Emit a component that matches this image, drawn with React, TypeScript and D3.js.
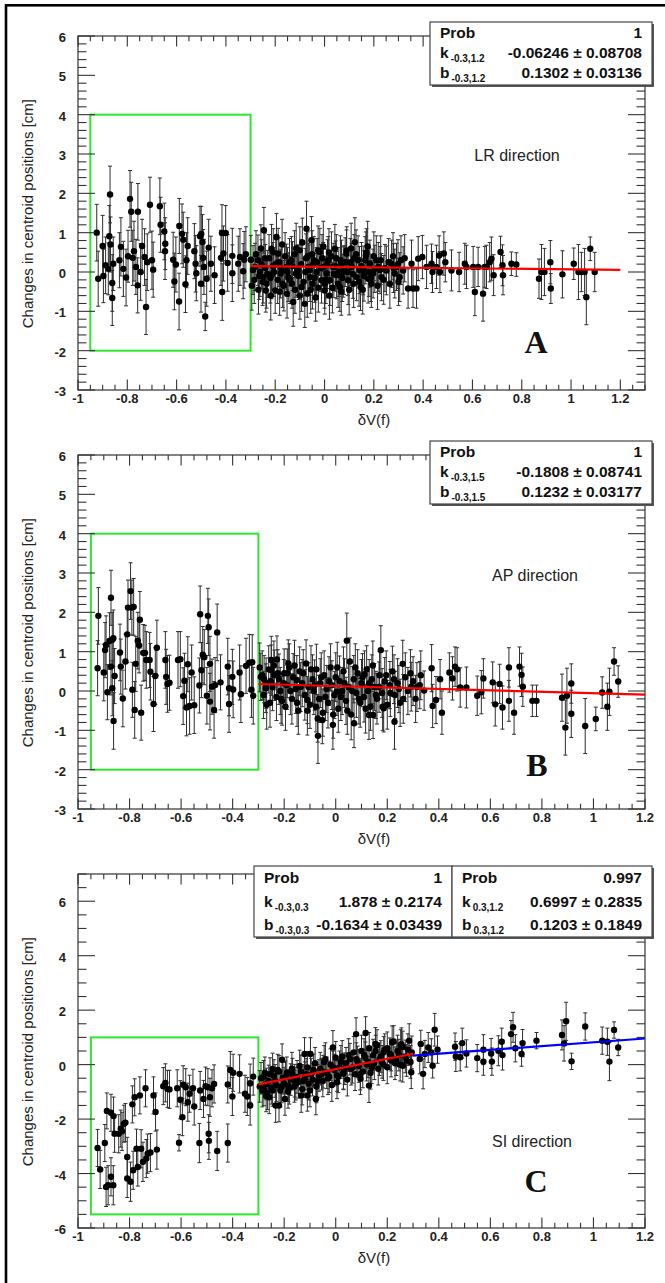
import React from 'react';
import * as d3 from 'd3';

type P = [number, number, number];

// ---------- data (x = dV(f), y = change in centroid position, e = error) ----------
const lrPoints: P[] = [
  [-0.924,1.0,0.72],[-0.918,-0.17,0.7],[-0.9,0.66,0.78],[-0.897,-0.1,0.68],[-0.888,0.17,0.72],[-0.877,0.08,0.66],
  [-0.87,1.97,0.72],[-0.873,0.91,0.78],[-0.868,0.7,0.7],[-0.861,-0.28,0.72],[-0.861,-0.66,0.7],[-0.857,0.21,0.68],
  [-0.832,0.3,0.7],[-0.826,0.64,0.74],[-0.816,0.08,0.7],[-0.805,-0.14,0.72],[-0.797,0.4,0.66],[-0.789,1.86,0.72],
  [-0.784,1.53,0.75],[-0.778,0.36,0.7],[-0.773,0.53,0.76],[-0.765,0.13,0.7],[-0.757,1.53,0.72],[-0.758,-0.34,0.7],
  [-0.746,0.0,0.72],[-0.74,0.66,0.68],[-0.73,0.38,0.72],[-0.724,-0.89,0.7],[-0.719,0.25,0.72],[-0.708,1.71,0.7],
  [-0.7,0.3,0.74],[-0.695,0.06,0.7],[-0.668,1.67,0.72],[-0.665,1.2,0.7],[-0.65,1.03,0.72],[-0.646,0.72,0.66],
  [-0.647,0.53,0.72],[-0.614,0.31,0.7],[-0.609,-0.24,0.72],[-0.603,0.19,0.7],[-0.59,-0.75,0.72],[-0.589,1.17,0.7],
  [-0.578,0.97,0.76],[-0.573,0.82,0.7],[-0.564,-0.31,0.72],[-0.56,0.3,0.7],[-0.555,0.66,0.72],[-0.528,0.53,0.7],
  [-0.523,0.21,0.72],[-0.52,-0.03,0.7],[-0.505,0.91,0.76],[-0.5,0.97,0.7],[-0.501,-0.3,0.72],[-0.495,0.76,0.7],
  [-0.492,0.36,0.72],[-0.489,0.13,0.7],[-0.484,-1.13,0.36],[-0.478,-0.17,0.7],[-0.47,0.62,0.72],[-0.461,0.21,0.7],
  [-0.446,-0.08,0.72],[-0.42,0.36,0.7],[-0.415,-0.51,0.72],[-0.41,0.47,0.7],[-0.416,0.99,0.72],[-0.401,0.99,0.7],
  [-0.393,0.23,0.72],[-0.374,0.41,0.7],[-0.374,-0.03,0.72],[-0.35,0.21,0.7],[-0.343,0.38,0.72],[-0.33,0.02,0.7],
  [-0.326,0.31,0.72],[-0.319,0.45,0.7],[-0.299,0.31,0.62],
  [-0.282,0.13,0.6],[-0.262,0.0,0.62],[-0.246,1.06,0.58],[-0.249,-0.13,0.66],[-0.251,-0.25,0.6],[-0.238,-0.47,0.55],
  [-0.215,0.59,0.62],[-0.215,-0.08,0.6],[-0.2,-0.47,0.58],[-0.195,0.89,0.6],[-0.188,0.47,0.64],[-0.178,-0.04,0.62],
  [-0.17,-0.3,0.6],[-0.154,0.13,0.58],[-0.147,-0.13,0.62],[-0.134,0.3,0.6],[-0.127,-0.76,0.62],[-0.116,-0.04,0.6],
  [-0.107,0.04,0.64],[-0.1,0.55,0.6],[-0.093,-0.38,0.62],[-0.08,-0.81,0.6],[-0.073,1.1,0.7],[-0.066,0.13,0.6],
  [-0.059,-0.13,0.62],[-0.053,0.81,0.6],[-0.049,-0.3,0.64],[-0.043,0.3,0.6],[-0.032,0.0,0.62],[-0.019,0.51,0.6],
  [-0.012,-0.21,0.58],[-0.005,0.13,0.62],[0.001,-0.47,0.6],[0.008,-0.04,0.62],[0.015,0.3,0.6],[0.022,-0.21,0.64],
  [0.035,0.13,0.6],[0.042,0.59,0.62],[0.049,-0.08,0.6],[0.062,-0.38,0.62],[0.069,0.21,0.6],[0.076,0.0,0.64],
  [0.089,0.47,0.6],[0.096,-0.21,0.62],[0.11,0.13,0.6],[0.123,0.76,0.62],[0.13,-0.13,0.6],[0.136,0.3,0.62],
  [0.146,-0.38,0.6],[0.157,0.04,0.62],[0.168,0.42,0.6],[0.177,-0.17,0.62],[0.184,0.21,0.6],[0.197,-0.04,0.62],
  [0.204,0.08,0.6],[0.218,0.13,0.62],[0.231,-0.13,0.6],[0.251,0.04,0.62],[0.272,0.21,0.6],[0.285,-0.04,0.62],
  [0.292,0.13,0.6],[0.305,-0.13,0.62],[0.319,0.04,0.6],[0.339,-0.42,0.5],[0.353,0.21,0.6],[0.359,-0.42,0.48],
  [0.373,-0.42,0.5],[0.38,0.34,0.56],[0.397,0.38,0.55],[0.414,0.13,0.55],[0.434,0.21,0.5],[0.438,0.0,0.52],
  [0.454,0.13,0.55],[0.465,0.42,0.5],[0.468,0.0,0.52],[0.484,0.47,0.55],[0.49,0.25,0.5],[0.515,0.04,0.52],
  [0.546,0.0,0.5],[0.569,0.21,0.52],[0.576,0.13,0.55],[0.603,0.13,0.52],[0.61,-0.51,0.6],[0.623,0.13,0.5],
  [0.643,-0.55,0.7],[0.65,0.13,0.52],[0.657,0.13,0.55],[0.67,0.25,0.5],[0.677,0.34,0.55],[0.686,-0.08,0.52],
  [0.714,0.51,0.4],[0.722,0.17,0.52],[0.724,-0.08,0.5],[0.758,0.21,0.3],[0.778,0.19,0.3],[0.87,-0.17,0.5],
  [0.88,0.0,0.7],[0.892,0.0,0.6],[0.916,0.25,0.55],[0.918,-0.42,0.38],[0.965,-0.06,0.6],[1.011,0.21,0.4],
  [1.03,0.0,0.7],[1.042,0.0,0.5],[1.055,0.0,0.6],[1.062,-0.64,0.7],[1.078,0.59,0.3],[1.096,0.0,0.5],
  [-0.29,0.05,0.62],[-0.285,-0.2,0.6],[-0.27,0.3,0.64],[-0.265,-0.1,0.6],[-0.255,0.2,0.62],[-0.24,0.1,0.6],
  [-0.235,-0.3,0.62],[-0.225,0.35,0.6],[-0.22,-0.15,0.64],[-0.21,0.15,0.6],[-0.205,0.0,0.62],[-0.19,-0.2,0.6],
  [-0.185,0.25,0.62],[-0.175,0.1,0.6],[-0.165,-0.35,0.64],[-0.16,0.4,0.6],[-0.15,0.0,0.62],[-0.14,-0.2,0.6],
  [-0.13,0.15,0.62],[-0.12,-0.45,0.6],[-0.115,0.6,0.64],[-0.105,-0.1,0.6],[-0.095,0.2,0.62],[-0.085,-0.25,0.6],
  [-0.075,0.35,0.62],[-0.07,-0.55,0.6],[-0.06,0.05,0.64],[-0.05,0.45,0.6],[-0.04,-0.15,0.62],[-0.03,0.25,0.6],
  [-0.025,-0.4,0.62],[-0.015,0.1,0.6],[-0.005,0.65,0.64],[0.005,-0.2,0.6],[0.012,0.2,0.62],[0.02,-0.6,0.6],
  [0.028,0.4,0.62],[0.038,-0.05,0.6],[0.045,0.15,0.64],[0.055,-0.3,0.6],[0.065,0.3,0.62],[0.072,-0.15,0.6],
  [0.08,0.05,0.62],[0.09,0.55,0.6],[0.1,-0.45,0.64],[0.105,0.25,0.6],[0.115,-0.05,0.62],[0.12,0.35,0.6],
  [0.14,-0.25,0.62],[0.15,0.15,0.6],[0.16,-0.1,0.64],[0.17,0.5,0.6],[0.18,0.0,0.62],[0.19,-0.3,0.6],
  [0.21,0.3,0.62],[0.225,0.05,0.6],[0.24,-0.2,0.62],[0.26,0.25,0.6],[0.28,0.1,0.62],[0.3,-0.25,0.6],[0.31,0.3,0.62],
  [-0.295,-0.35,0.62],[-0.278,0.45,0.6],[-0.268,-0.45,0.62],[-0.258,0.6,0.6],[-0.242,0.35,0.64],[-0.232,-0.05,0.6],
  [-0.218,-0.6,0.62],[-0.208,0.5,0.6],[-0.198,0.2,0.62],[-0.182,-0.5,0.6],[-0.172,0.7,0.64],[-0.162,0.05,0.6],
  [-0.152,-0.55,0.62],[-0.142,0.25,0.6],[-0.132,-0.3,0.62],[-0.122,0.45,0.6],[-0.11,0.05,0.64],[-0.1,-0.6,0.6],
  [-0.09,0.75,0.62],[-0.078,0.0,0.6],[-0.068,0.4,0.62],[-0.056,-0.45,0.6],[-0.046,0.2,0.64],[-0.036,-0.65,0.6],
  [-0.026,0.55,0.62],[-0.01,0.35,0.6],[0.0,-0.3,0.62],[0.018,0.5,0.6],[0.032,-0.4,0.64],[0.048,0.35,0.6],
  [0.058,0.0,0.62],[0.068,-0.5,0.6],[0.084,0.25,0.62],[0.094,0.0,0.6],[0.108,0.6,0.64],[0.118,-0.3,0.6],
  [0.128,0.45,0.62],[0.142,0.05,0.6],[0.155,-0.45,0.62],[0.165,0.3,0.6],[0.175,0.65,0.64],[0.188,-0.15,0.6],
  [0.2,0.4,0.62],[0.215,-0.35,0.6],[0.228,0.3,0.62],[0.245,0.1,0.6],[0.265,-0.3,0.62],[0.278,0.4,0.6],
  [0.298,0.2,0.62],[0.325,0.35,0.6],
];

const apPoints: P[] = [
  [-0.921,1.91,0.72],[-0.924,0.58,0.7],[-0.9,0.47,0.72],[-0.895,1.04,0.7],[-0.891,1.17,0.74],[-0.886,-0.03,0.7],
  [-0.878,1.27,0.72],[-0.872,2.37,0.7],[-0.872,0.62,0.72],[-0.867,1.3,0.7],[-0.863,1.34,0.72],[-0.867,0.07,0.7],
  [-0.862,-0.76,0.72],[-0.858,0.38,0.7],[-0.837,0.98,0.72],[-0.834,0.62,0.7],[-0.826,-0.19,0.72],[-0.816,0.75,0.7],
  [-0.809,1.44,0.72],[-0.806,2.12,0.7],[-0.796,2.54,0.72],[-0.791,2.12,0.7],[-0.784,2.14,0.72],[-0.789,0.03,0.7],
  [-0.78,-0.48,0.72],[-0.776,0.69,0.7],[-0.768,1.28,0.72],[-0.763,1.16,0.7],[-0.76,1.81,0.72],[-0.755,-0.55,0.7],
  [-0.747,0.97,0.72],[-0.74,0.97,0.7],[-0.735,0.79,0.72],[-0.722,0.79,0.7],[-0.719,0.49,0.72],[-0.707,-0.33,0.7],
  [-0.7,0.38,0.72],[-0.694,1.1,0.7],[-0.661,0.79,0.72],[-0.658,0.36,0.7],[-0.653,0.18,0.72],[-0.645,0.21,0.7],
  [-0.612,0.79,0.72],[-0.603,0.81,0.7],[-0.592,-0.13,0.72],[-0.587,0.26,0.7],[-0.579,-0.42,0.72],[-0.574,0.68,0.7],
  [-0.567,-0.38,0.72],[-0.559,0.47,0.7],[-0.549,-0.36,0.72],[-0.529,0.14,0.7],[-0.526,1.95,0.72],[-0.521,0.53,0.7],
  [-0.516,0.92,0.72],[-0.51,0.86,0.7],[-0.5,-0.12,0.72],[-0.496,1.91,0.7],[-0.493,1.62,0.72],[-0.488,0.69,0.7],
  [-0.488,-0.27,0.72],[-0.48,0.11,0.7],[-0.472,-0.48,0.72],[-0.468,0.15,0.7],[-0.46,1.49,0.72],[-0.447,0.22,0.7],
  [-0.419,0.62,0.72],[-0.414,0.07,0.7],[-0.414,-0.33,0.72],[-0.401,0.36,0.7],[-0.398,0.04,0.72],[-0.373,0.47,0.7],
  [-0.368,-0.08,0.72],[-0.348,0.64,0.7],[-0.335,0.72,0.72],[-0.324,0.73,0.7],[-0.32,-0.12,0.72],[-0.327,0.03,0.7],
  [-0.291,0.36,0.6],[-0.271,0.07,0.62],[-0.25,0.79,0.6],[-0.25,0.53,0.64],[-0.225,0.45,0.6],[-0.208,-0.25,0.62],
  [-0.184,0.7,0.6],[-0.151,0.28,0.62],[-0.11,-0.23,0.6],[-0.077,-0.4,0.64],[-0.069,-1.14,0.7],[-0.052,-0.74,0.6],
  [-0.011,-0.86,0.62],[0.005,-0.02,0.6],[0.043,1.28,0.7],[0.071,-0.82,0.62],[0.112,0.42,0.6],[0.129,-0.61,0.62],
  [0.145,-0.61,0.6],[0.175,1.04,0.62],[0.186,-0.44,0.6],[0.228,-0.78,0.7],[0.26,0.69,0.6],[0.293,0.11,0.62],
  [0.326,0.15,0.6],[0.343,0.01,0.5],[0.372,0.58,0.6],[0.376,-0.38,0.55],[0.389,-0.23,0.6],[0.405,0.3,0.5],
  [0.412,-0.55,0.55],[0.441,0.47,0.5],[0.453,0.32,0.55],[0.463,0.62,0.5],[0.471,0.55,0.55],[0.483,0.09,0.5],
  [0.507,0.09,0.52],[0.549,-0.12,0.5],[0.565,-0.03,0.55],[0.573,0.32,0.5],[0.609,0.22,0.52],[0.619,-0.34,0.55],
  [0.636,0.18,0.5],[0.647,-0.42,0.55],[0.672,0.6,0.5],[0.672,-0.25,0.52],[0.692,-0.55,0.55],[0.713,0.62,0.5],
  [0.721,0.41,0.55],[0.726,0.11,0.5],[0.763,-0.25,0.4],[0.779,-0.25,0.4],[0.878,-0.17,0.6],[0.891,-0.93,0.7],
  [0.897,-0.12,0.7],[0.914,0.19,0.5],[0.914,-0.58,0.6],[0.968,-0.89,0.7],[1.009,-0.71,0.3],[1.034,-0.04,0.4],
  [1.054,-0.4,0.6],[1.062,-0.02,0.6],[1.08,0.75,0.35],[1.096,0.24,0.4],
  [-0.285,0.4,0.62],[-0.28,-0.1,0.6],[-0.27,0.2,0.64],[-0.26,0.55,0.6],[-0.255,-0.3,0.62],[-0.245,0.1,0.6],
  [-0.24,0.65,0.62],[-0.23,-0.15,0.6],[-0.22,0.3,0.64],[-0.215,0.0,0.6],[-0.2,0.45,0.62],[-0.195,-0.4,0.6],
  [-0.19,0.15,0.62],[-0.18,0.6,0.6],[-0.17,-0.2,0.64],[-0.165,0.35,0.6],[-0.155,0.05,0.62],[-0.145,-0.5,0.6],
  [-0.14,0.5,0.62],[-0.13,0.2,0.6],[-0.12,-0.1,0.64],[-0.115,0.7,0.6],[-0.105,0.1,0.62],[-0.1,-0.35,0.6],
  [-0.09,0.3,0.62],[-0.085,0.0,0.6],[-0.075,0.55,0.64],[-0.065,-0.2,0.6],[-0.06,0.2,0.62],[-0.05,-0.55,0.6],
  [-0.045,0.4,0.62],[-0.035,0.05,0.6],[-0.03,-0.3,0.64],[-0.02,0.6,0.6],[-0.015,0.15,0.62],[-0.005,-0.1,0.6],
  [0.0,0.35,0.62],[0.01,-0.45,0.6],[0.015,0.25,0.64],[0.025,0.0,0.6],[0.03,0.5,0.62],[0.04,-0.25,0.6],
  [0.05,0.1,0.62],[0.055,0.75,0.6],[0.06,-0.6,0.64],[0.07,0.3,0.6],[0.08,-0.05,0.62],[0.085,0.45,0.6],
  [0.095,-0.3,0.62],[0.1,0.2,0.6],[0.11,-0.15,0.64],[0.12,0.55,0.6],[0.125,0.0,0.62],[0.135,-0.4,0.6],
  [0.14,0.3,0.62],[0.15,0.1,0.6],[0.16,-0.2,0.64],[0.17,0.4,0.6],[0.18,-0.05,0.62],[0.19,0.25,0.6],
  [0.2,-0.35,0.62],[0.21,0.15,0.6],[0.22,0.5,0.64],[0.23,-0.1,0.6],[0.24,0.2,0.62],[0.25,-0.3,0.6],
  [0.27,0.35,0.62],[0.28,0.0,0.6],[0.3,0.25,0.62],[0.31,-0.2,0.6],[0.33,0.4,0.62],
  [-0.295,0.6,0.62],[-0.278,0.3,0.6],[-0.268,-0.35,0.62],[-0.252,0.25,0.6],[-0.238,0.4,0.64],[-0.228,0.8,0.6],
  [-0.212,-0.2,0.62],[-0.202,0.2,0.6],[-0.188,0.45,0.62],[-0.176,0.0,0.6],[-0.16,0.65,0.64],[-0.15,-0.3,0.6],
  [-0.136,0.1,0.62],[-0.126,0.45,0.6],[-0.11,-0.5,0.62],[-0.096,0.55,0.6],[-0.082,0.15,0.64],[-0.07,-0.7,0.6],
  [-0.056,0.35,0.62],[-0.04,-0.15,0.6],[-0.026,0.25,0.62],[-0.01,-0.6,0.6],[0.006,0.6,0.64],[0.02,-0.15,0.6],
  [0.034,0.2,0.62],[0.045,-0.5,0.6],[0.064,0.0,0.62],[0.076,0.6,0.6],[0.09,-0.2,0.64],[0.104,0.35,0.6],
  [0.116,-0.45,0.62],[0.13,0.2,0.6],[0.144,0.65,0.62],[0.156,-0.1,0.6],[0.168,0.1,0.64],[0.182,-0.4,0.6],
  [0.196,0.4,0.62],[0.212,-0.05,0.6],[0.226,0.3,0.62],[0.245,0.05,0.6],[0.262,-0.2,0.62],[0.29,0.45,0.6],
  [0.315,0.1,0.62],
];

const siPoints: P[] = [
  [-0.924,-3.06,0.68],[-0.914,-3.85,0.7],[-0.896,-2.88,0.68],[-0.891,-4.49,0.72],[-0.888,-1.7,0.66],[-0.883,-4.43,0.72],
  [-0.872,-4.12,0.7],[-0.872,-1.77,0.68],[-0.862,-1.89,0.7],[-0.863,-4.43,0.72],[-0.858,-2.54,0.68],[-0.842,-2.54,0.7],
  [-0.834,-2.35,0.68],[-0.829,-2.45,0.7],[-0.822,-2.17,0.68],[-0.816,-2.13,0.7],[-0.809,-3.39,0.72],[-0.809,-4.18,0.7],
  [-0.796,-4.3,0.72],[-0.789,-1.46,0.68],[-0.786,-3.88,0.7],[-0.78,-1.2,0.68],[-0.773,-3.09,0.72],[-0.768,-3.76,0.7],
  [-0.76,-1.13,0.68],[-0.755,-3.09,0.7],[-0.748,-3.57,0.72],[-0.738,-0.87,0.68],[-0.735,-3.45,0.7],[-0.73,-3.27,0.72],
  [-0.719,-3.23,0.7],[-0.707,-1.13,0.68],[-0.699,-1.74,0.7],[-0.694,-3.12,0.72],[-0.669,-0.79,0.68],[-0.661,-0.67,0.7],
  [-0.653,-0.89,0.68],[-0.645,-0.91,0.7],[-0.615,-0.87,0.68],[-0.608,-2.87,0.3],[-0.603,-1.29,0.7],[-0.595,-1.93,0.68],
  [-0.592,-0.74,0.7],[-0.582,-0.83,0.68],[-0.574,-1.38,0.7],[-0.567,-1.07,0.68],[-0.554,-0.87,0.7],[-0.549,-1.54,0.68],
  [-0.529,-2.88,0.72],[-0.526,-0.95,0.7],[-0.513,-1.26,0.68],[-0.505,-0.79,0.7],[-0.496,-0.83,0.68],[-0.493,-2.54,0.7],
  [-0.492,-2.8,0.68],[-0.488,-1.2,0.7],[-0.48,-0.87,0.68],[-0.472,-0.71,0.7],[-0.46,-3.17,0.72],[-0.419,-0.73,0.68],
  [-0.419,-2.88,0.7],[-0.409,-0.2,0.68],[-0.401,-1.17,0.7],[-0.398,-0.3,0.68],[-0.373,-0.34,0.7],[-0.352,-1.07,0.68],
  [-0.343,-1.17,0.7],[-0.332,-1.5,0.72],[-0.332,-0.68,0.7],[-0.32,-0.44,0.68],
  [-0.279,-0.91,0.6],[-0.269,-0.71,0.58],[-0.258,-1.2,0.6],[-0.245,-0.16,0.58],[-0.233,-1.5,0.62],[-0.22,-1.5,0.6],
  [-0.208,0.18,0.58],[-0.197,-1.26,0.6],[-0.184,-0.77,0.58],[-0.159,-0.59,0.6],[-0.134,-1.13,0.62],[-0.121,0.39,0.6],
  [-0.11,-1.13,0.58],[-0.098,0.39,0.6],[-0.077,-1.26,0.58],[-0.049,-0.26,0.6],[-0.011,0.63,0.62],[0.005,-0.65,0.6],
  [0.03,-0.34,0.58],[0.079,1.12,0.6],[0.096,-0.52,0.58],[0.116,1.16,0.6],[0.129,-0.77,0.62],[0.154,0.76,0.6],
  [0.186,0.45,0.58],[0.219,0.82,0.6],[0.252,0.7,0.58],[0.26,-0.04,0.6],[0.285,0.88,0.62],[0.293,-0.28,0.6],
  [0.326,0.21,0.55],[0.33,0.76,0.5],[0.339,-0.34,0.55],[0.346,0.39,0.5],[0.359,0.63,0.55],[0.371,0.45,0.5],
  [0.376,-0.04,0.45],[0.384,1.28,0.6],[0.395,0.55,0.5],[0.463,0.66,0.5],[0.466,0.3,0.55],[0.483,0.27,0.5],
  [0.491,0.79,0.55],[0.507,0.41,0.5],[0.549,0.24,0.5],[0.573,0.55,0.55],[0.573,0.11,0.5],[0.603,0.41,0.55],
  [0.606,0.11,0.5],[0.631,0.51,0.55],[0.644,0.84,0.5],[0.647,0.35,0.55],[0.68,1.12,0.5],[0.688,1.37,0.55],
  [0.697,0.6,0.5],[0.721,0.39,0.45],[0.725,0.79,0.5],[0.779,0.88,0.3],[0.878,1.09,0.55],[0.886,0.78,0.65],
  [0.894,1.59,0.7],[0.915,0.12,0.3],[0.968,1.4,0.5],[1.034,0.88,0.5],[1.054,0.84,0.5],[1.062,0.11,0.7],
  [1.08,1.27,0.3],[1.096,0.63,0.3],
  [-0.29,-0.5,0.58],[-0.285,-0.95,0.6],[-0.275,-0.3,0.58],[-0.265,-1.05,0.6],[-0.26,-0.6,0.58],[-0.25,-0.85,0.6],
  [-0.24,-0.4,0.58],[-0.23,-0.75,0.6],[-0.225,-0.2,0.58],[-0.215,-0.95,0.6],[-0.205,-0.5,0.58],[-0.2,-0.7,0.6],
  [-0.19,-0.3,0.58],[-0.185,-1.0,0.6],[-0.175,-0.55,0.58],[-0.17,-0.15,0.6],[-0.16,-0.8,0.58],[-0.15,-0.45,0.6],
  [-0.145,-0.65,0.58],[-0.135,-0.25,0.6],[-0.13,-0.9,0.58],[-0.12,-0.5,0.6],[-0.11,-0.1,0.58],[-0.105,-0.7,0.6],
  [-0.095,-0.35,0.58],[-0.09,-0.55,0.6],[-0.08,0.05,0.58],[-0.075,-0.8,0.6],[-0.065,-0.4,0.58],[-0.06,-0.15,0.6],
  [-0.05,-0.6,0.58],[-0.045,0.1,0.6],[-0.035,-0.3,0.58],[-0.03,-0.5,0.6],[-0.02,0.0,0.58],[-0.015,-0.75,0.6],
  [-0.005,-0.2,0.58],[0.0,0.25,0.6],[0.01,-0.45,0.58],[0.015,-0.1,0.6],[0.025,0.3,0.58],[0.03,-0.3,0.6],
  [0.04,0.05,0.58],[0.045,-0.55,0.6],[0.055,0.2,0.58],[0.06,-0.15,0.6],[0.07,0.45,0.58],[0.075,-0.35,0.6],
  [0.085,0.1,0.58],[0.09,-0.05,0.6],[0.1,0.5,0.58],[0.105,-0.25,0.6],[0.115,0.25,0.58],[0.12,0.0,0.6],
  [0.13,0.6,0.58],[0.135,-0.3,0.6],[0.145,0.35,0.58],[0.15,0.05,0.6],[0.16,0.7,0.58],[0.165,-0.15,0.6],
  [0.175,0.3,0.58],[0.18,0.1,0.6],[0.19,0.55,0.58],[0.2,-0.1,0.6],[0.21,0.4,0.58],[0.215,0.15,0.6],
  [0.225,0.85,0.58],[0.235,0.2,0.6],[0.24,0.5,0.58],[0.25,0.0,0.6],[0.26,0.65,0.58],[0.27,0.3,0.6],
  [0.28,0.55,0.58],[0.29,0.1,0.6],
  [-0.295,-0.8,0.58],[-0.28,-0.45,0.6],[-0.27,-1.15,0.58],[-0.255,-0.35,0.6],[-0.245,-0.95,0.58],[-0.235,-0.6,0.6],
  [-0.22,-0.25,0.58],[-0.21,-0.8,0.6],[-0.195,-0.45,0.58],[-0.18,-0.85,0.6],[-0.168,-0.35,0.58],[-0.155,-0.7,0.6],
  [-0.14,-0.05,0.58],[-0.126,-0.6,0.6],[-0.115,-0.35,0.58],[-0.1,-0.95,0.6],[-0.086,-0.2,0.58],[-0.07,-0.6,0.6],
  [-0.055,-0.35,0.58],[-0.04,0.2,0.6],[-0.025,-0.45,0.58],[-0.01,-0.1,0.6],[0.005,-0.4,0.58],[0.02,0.1,0.6],
  [0.035,-0.15,0.58],[0.05,0.35,0.6],[0.065,-0.1,0.58],[0.08,0.2,0.6],[0.095,-0.35,0.58],[0.11,0.35,0.6],
  [0.125,0.1,0.58],[0.14,-0.1,0.6],[0.155,0.5,0.58],[0.17,0.2,0.6],[0.185,0.0,0.58],[0.2,0.6,0.6],
  [0.215,0.35,0.58],[0.23,0.05,0.6],[0.245,0.35,0.58],[0.255,0.75,0.6],[0.275,0.15,0.58],[0.295,0.45,0.6],
];

// fits: [xFrom, xTo, slope k, intercept b]
const lrFit = [-0.3, 1.2, -0.06246, 0.1302];
const apFit = [-0.3, 1.2, -0.1808, 0.1232];
const siFitLow = [-0.3, 0.3, 1.878, -0.1634];
const siFitHigh = [0.3, 1.2, 0.6997, 0.1203];

// green selection boxes: [x0, x1, y0, y1]
const lrBox = [-0.95, -0.3, -2, 4];
const apBox = [-0.95, -0.3, -2, 4];
const siBox = [-0.95, -0.3, -5.5, 1];

// tick values and labels
const xTickValues = [-1, -0.8, -0.6, -0.4, -0.2, 0, 0.2, 0.4, 0.6, 0.8, 1, 1.2];
const xTickLabels = ['-1', '-0.8', '-0.6', '-0.4', '-0.2', '0', '0.2', '0.4', '0.6', '0.8', '1', '1.2'];
const yTickValuesAB = [-3, -2, -1, 0, 1, 2, 3, 4, 5, 6];
const yTickLabelsAB = ['-3', '-2', '-1', '0', '1', '2', '3', '4', '5', '6'];
const yTickValuesC = [-6, -4, -2, 0, 2, 4, 6];
const yTickLabelsC = ['-6', '-4', '-2', '0', '2', '4', '6'];

// stats rows: [label, subscript, value]
const lrStats = [['Prob', '', '1'], ['k', '-0.3,1.2', '-0.06246 \u00b1 0.08708'], ['b', '-0.3,1.2', '0.1302 \u00b1 0.03136']];
const apStats = [['Prob', '', '1'], ['k', '-0.3,1.5', '-0.1808 \u00b1 0.08741'], ['b', '-0.3,1.5', '0.1232 \u00b1 0.03177']];
const siStatsLow = [['Prob', '', '1'], ['k', '-0.3,0.3', '1.878 \u00b1 0.2174'], ['b', '-0.3,0.3', '-0.1634 \u00b1 0.03439']];
const siStatsHigh = [['Prob', '', '0.997'], ['k', '0.3,1.2', '0.6997 \u00b1 0.2835'], ['b', '0.3,1.2', '0.1203 \u00b1 0.1849']];

// ---------- layout ----------
const W = 665;
const H = 1283;
const FL = 78;
const FR = 645;
const FH = 354;
const SANS = "'Liberation Sans', Arial, Helvetica, sans-serif";
const SERIF = "'Liberation Serif', 'Times New Roman', serif";
const AXIS = '#333';
const GREEN = '#2ee62e';

function StatsBox({ x0, x1, y0, y1, rows, baselines }: any) {
  return (
    <g>
      <rect x={x0 + 2} y={y0 + 2} width={x1 - x0} height={y1 - y0} fill="#555" />
      <rect x={x0} y={y0} width={x1 - x0} height={y1 - y0} fill="#fff" stroke="#444" strokeWidth={1.2} />
      {rows.map((r: string[], i: number) => (
        <g key={i} fontFamily={SANS} fontWeight="bold" fill="#111">
          <text x={x0 + 10} y={baselines[i]} fontSize={15.5}>
            {r[0]}
            {r[1] ? (
              <tspan fontSize={10} dx={2} dy={4}>{r[1]}</tspan>
            ) : null}
          </text>
          <text x={x1 - 10} y={baselines[i]} fontSize={15.5} textAnchor="end">{r[2]}</text>
        </g>
      ))}
    </g>
  );
}

function Panel(props: any) {
  const { top, xMax, yMin, yMax, yMinorStep, yTicks, yLabels, points, fits, box, dirText, dirPos, letter, letterPos } = props;
  const bottom = top + FH;
  const x = d3.scaleLinear().domain([-1, xMax]).range([FL, FR]);
  const y = d3.scaleLinear().domain([yMin, yMax]).range([bottom, top]);
  const xMinor = d3.range(-1, xMax + 1e-6, 0.05);
  const yMinor = d3.range(yMin, yMax + 1e-6, yMinorStep);
  const xMajLen = 10.6, xMinLen = 5.3, yMajLen = 17, yMinLen = 8.5;
  const onX = (v: number) => Math.abs(Math.round(v / 0.2) * 0.2 - v) < 1e-6;
  const majorY = new Set(yTicks.map((v: number) => v.toFixed(3)));
  return (
    <g>
      <rect x={x(box[0])} y={y(box[3])} width={x(box[1]) - x(box[0])} height={y(box[2]) - y(box[3])}
        fill="none" stroke={GREEN} strokeWidth={2} />
      <g stroke="#2e2e2e" strokeWidth={1}>
        {points.map((p: P, i: number) => {
          const cx = x(p[0]);
          const yt = y(p[1] + p[2]);
          const yb = y(p[1] - p[2]);
          return (
            <g key={i}>
              <line x1={cx} x2={cx} y1={yt} y2={yb} />
              <line x1={cx - 2} x2={cx + 2} y1={yt} y2={yt} />
              <line x1={cx - 2} x2={cx + 2} y1={yb} y2={yb} />
            </g>
          );
        })}
      </g>
      <g fill="#000">
        {points.map((p: P, i: number) => (
          <circle key={i} cx={x(p[0])} cy={y(p[1])} r={3.2} />
        ))}
      </g>
      {fits.map((f: any, i: number) => (
        <line key={i} x1={x(f.p[0])} y1={y(f.p[2] * f.p[0] + f.p[3])} x2={x(f.p[1])} y2={y(f.p[2] * f.p[1] + f.p[3])}
          stroke={f.color} strokeWidth={2.2} />
      ))}
      <rect x={FL} y={top} width={FR - FL} height={FH} fill="none" stroke={AXIS} strokeWidth={1.2} />
      <g stroke={AXIS} strokeWidth={1.1}>
        {xMinor.map((v: number, i: number) => {
          const len = onX(v) ? xMajLen : xMinLen;
          const px = x(v);
          return (
            <g key={i}>
              <line x1={px} x2={px} y1={bottom} y2={bottom - len} />
              <line x1={px} x2={px} y1={top} y2={top + len} />
            </g>
          );
        })}
        {yMinor.map((v: number, i: number) => {
          const len = majorY.has(v.toFixed(3)) ? yMajLen : yMinLen;
          const py = y(v);
          return (
            <g key={i}>
              <line x1={FL} x2={FL + len} y1={py} y2={py} />
              <line x1={FR} x2={FR - len} y1={py} y2={py} />
            </g>
          );
        })}
      </g>
      <g fontFamily={SANS} fontWeight="bold" fontSize={13} fill="#222">
        {xTickValues.map((v, i) => (
          <text key={i} x={x(v)} y={bottom + 13} textAnchor="middle">{xTickLabels[i]}</text>
        ))}
        {yTicks.map((v: number, i: number) => (
          <text key={i} x={FL - 12} y={y(v) + 6} textAnchor="end">{yLabels[i]}</text>
        ))}
      </g>
      <text x={374} y={bottom + 35} textAnchor="middle" fontFamily={SANS} fontSize={15} fill="#222">{'\u03b4V(f)'}</text>
      <text transform={`translate(33,${top + 63}) rotate(-90)`} textAnchor="end" fontFamily={SANS} fontSize={15} fill="#222">
        Changes in centroid positions [cm]
      </text>
      <text x={dirPos[0]} y={dirPos[1]} textAnchor="middle" fontFamily={SANS} fontSize={16} fill="#222">{dirText}</text>
      <text x={letterPos[0]} y={letterPos[1]} textAnchor="middle" fontFamily={SERIF} fontWeight="bold" fontSize={32} fill="#111">{letter}</text>
    </g>
  );
}

export default function App() {
  const topA = 36, topB = 455, topC = 874;
  return (
    <svg width={W} height={H} style={{ position: 'absolute', left: 0, top: 0, background: '#fff' }}>
      <rect x={0} y={0} width={W} height={H} fill="#fff" />
      <Panel top={topA} xMax={1.3} yMin={-3} yMax={6} yMinorStep={0.2} yTicks={yTickValuesAB} yLabels={yTickLabelsAB}
        points={lrPoints} fits={[{ p: lrFit, color: '#ff0000' }]} box={lrBox}
        dirText="LR direction" dirPos={[517, topA + 125]} letter="A" letterPos={[536, topA + 317]} />
      <Panel top={topB} xMax={1.2} yMin={-3} yMax={6} yMinorStep={0.2} yTicks={yTickValuesAB} yLabels={yTickLabelsAB}
        points={apPoints} fits={[{ p: apFit, color: '#ff0000' }]} box={apBox}
        dirText="AP direction" dirPos={[535, topB + 126]} letter="B" letterPos={[537, topB + 321]} />
      <Panel top={topC} xMax={1.2} yMin={-6} yMax={7} yMinorStep={0.5} yTicks={yTickValuesC} yLabels={yTickLabelsC}
        points={siPoints} fits={[{ p: siFitLow, color: '#ff0000' }, { p: siFitHigh, color: '#0000ff' }]} box={siBox}
        dirText="SI direction" dirPos={[532, topC + 273]} letter="C" letterPos={[536, topC + 318]} />
      <StatsBox x0={430} x1={652} y0={topA - 14} y1={topA + 49} rows={lrStats} baselines={[topA + 2, topA + 22, topA + 42]} />
      <StatsBox x0={430} x1={652} y0={topB - 14} y1={topB + 49} rows={apStats} baselines={[topB + 2, topB + 22, topB + 42]} />
      <StatsBox x0={254} x1={452} y0={topC - 8} y1={topC + 63} rows={siStatsLow} baselines={[topC + 9, topC + 33, topC + 56]} />
      <StatsBox x0={452} x1={652} y0={topC - 8} y1={topC + 63} rows={siStatsHigh} baselines={[topC + 9, topC + 33, topC + 56]} />
      <rect x={6} y={5.3} width={W + 20} height={H + 20} fill="none" stroke="#000" strokeWidth={2.6} />
    </svg>
  );
}
